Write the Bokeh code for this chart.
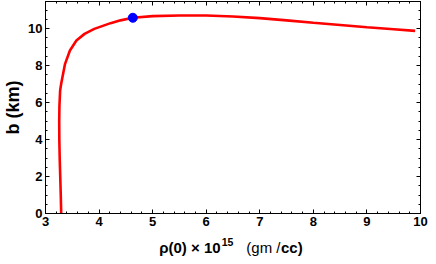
from bokeh.plotting import figure
from bokeh.layouts import column
from bokeh.models import LinearAxis, Range1d, FixedTicker
from bokeh.core.properties import value
from bokeh.embed import file_html
from bokeh.resources import INLINE

# Data
rho0 = [3.293, 3.285, 3.275, 3.265, 3.258, 3.256, 3.260, 3.273, 3.292, 3.316, 3.365,
        3.456, 3.577, 3.729, 3.911, 4.215, 4.40, 4.63, 5.0, 5.5, 6.0, 6.5,
        7.0, 7.5, 8.0, 8.5, 9.0, 9.5, 9.9]
b_km = [0.0, 1.0, 2.0, 3.0, 4.0, 5.0, 5.8, 6.65, 7.0, 7.37, 8.09,
        8.81, 9.35, 9.71, 9.98, 10.29, 10.44, 10.58, 10.67, 10.70, 10.70, 10.65,
        10.56, 10.44, 10.31, 10.19, 10.07, 9.96, 9.87]
marker_rho = [4.63]
marker_b = [10.58]
x_ticks = [3, 4, 5, 6, 7, 8, 9, 10]
x_minor = [3 + 0.2 * i for i in range(36)]
y_ticks = [0, 2, 4, 6, 8, 10]
y_minor = [0.5 * i for i in range(24)]

# x-axis title pieces: (text, weight, size, x position on the rho axis, baseline, align)
xlabel_parts = [
    ("\u03c1(0) \u00d7 10", "bold", "15px", 6.268, 9.0, "right"),
    ("15", "bold", "10.5px", 6.290, 14.5, "left"),
    ("(gm /", "normal", "15px", 7.387, 9.0, "right"),
    ("cc)", "bold", "15px", 7.396, 9.0, "left"),
]

FONT = "Liberation Sans"

p = figure(width=428, height=232, output_backend="svg", toolbar_location=None,
           title=None,
           x_range=Range1d(3, 10), y_range=Range1d(0, 11.46),
           min_border_left=44, min_border_right=8, min_border_top=1, min_border_bottom=19,
           background_fill_color="white", border_fill_color="white")
p.grid.visible = False
p.outline_line_color = "black"
p.outline_line_width = 1


def style_axis(ax, labels=True):
    ax.axis_line_color = "black"
    ax.major_tick_in = 4
    ax.major_tick_out = 0
    ax.minor_tick_in = 2
    ax.minor_tick_out = 0
    ax.major_tick_line_color = "black"
    ax.minor_tick_line_color = "black"
    ax.major_label_text_font = FONT
    ax.major_label_text_font_style = "bold"
    ax.major_label_text_color = "black"
    if labels:
        ax.major_label_text_font_size = "13px"
        ax.major_label_standoff = 3
    else:
        ax.major_label_text_font_size = "1px"
        ax.major_label_standoff = 0


p.xaxis.ticker = FixedTicker(ticks=x_ticks, minor_ticks=x_minor)
p.yaxis.ticker = FixedTicker(ticks=y_ticks, minor_ticks=y_minor)
style_axis(p.xaxis[0])
style_axis(p.yaxis[0])

p.yaxis.axis_label = "b (km)"
p.yaxis.axis_label_text_font = FONT
p.yaxis.axis_label_text_font_style = "bold"
p.yaxis.axis_label_text_font_size = "18px"
p.yaxis.axis_label_standoff = 2
p.yaxis.axis_label_text_color = "black"

top = LinearAxis(ticker=FixedTicker(ticks=x_ticks, minor_ticks=x_minor),
                 major_label_overrides={t: "" for t in x_ticks})
style_axis(top, labels=False)
p.add_layout(top, "above")
right = LinearAxis(ticker=FixedTicker(ticks=y_ticks, minor_ticks=y_minor),
                   major_label_overrides={t: "" for t in y_ticks})
style_axis(right, labels=False)
p.add_layout(right, "right")

p.line(rho0, b_km, line_color="#ff0000", line_width=2.6)
p.scatter(marker_rho, marker_b, size=9, fill_color="#0000ff", line_color="#0000ff")

# second strip (shares the rho axis) carrying the mixed-weight x-axis title
lab = figure(width=428, height=24, output_backend="svg", toolbar_location=None,
             title=None,
             x_range=p.x_range, y_range=Range1d(0, 24),
             min_border_left=0, min_border_right=0, min_border_top=0, min_border_bottom=0,
             x_axis_location=None, y_axis_location=None,
             background_fill_color="white", border_fill_color="white")
lab.grid.visible = False
lab.outline_line_color = None
for txt, style, size, xx, yy, al in xlabel_parts:
    lab.text(x=[xx], y=[yy], text=[txt], text_font=value(FONT), text_font_style=style,
             text_font_size=size, text_color="black",
             text_align=al, text_baseline="alphabetic")

layout = column(p, lab, spacing=0)
open("out.html", "w").write(file_html(layout, INLINE))
